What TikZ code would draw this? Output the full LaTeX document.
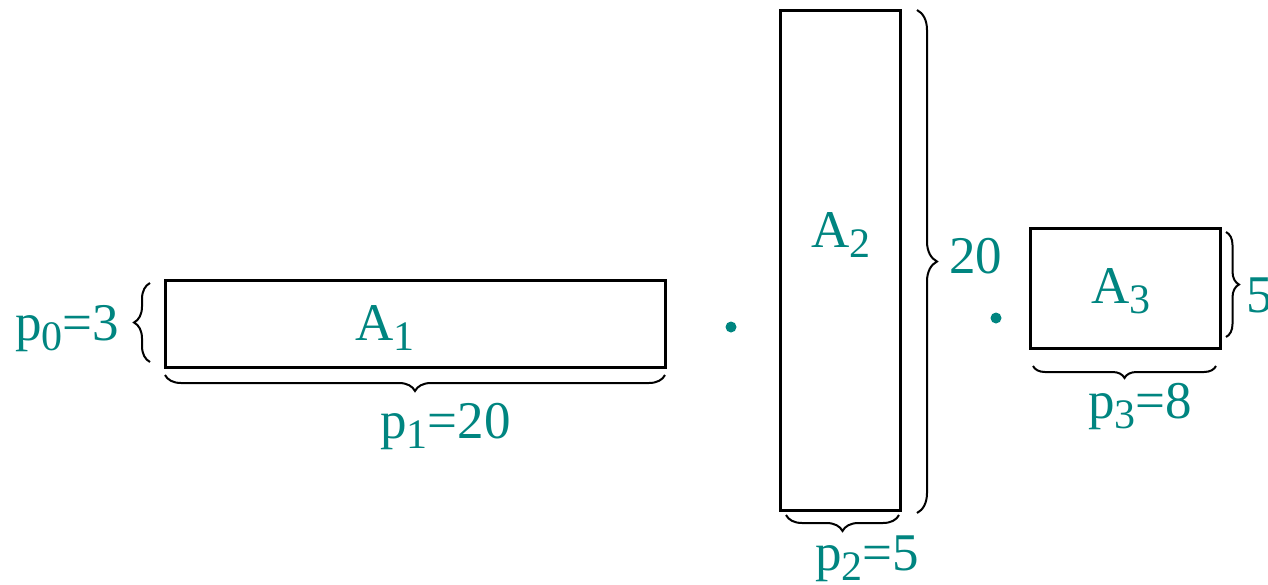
\documentclass[tikz,border=0pt]{standalone}
\usepackage{fontspec}
\setmainfont{Liberation Serif}
\usetikzlibrary{decorations.pathreplacing}
\definecolor{tealtext}{RGB}{0,133,128}
\newcommand{\lsub}[1]{\raisebox{-10pt}{\fontsize{42}{42}\selectfont #1}}
\begin{document}
\begin{tikzpicture}[x=1pt,y=-1pt,
  box/.style={draw=black,line width=3pt,inner sep=0pt,outer sep=0pt,fill=white},
  lbl/.style={text=tealtext,inner sep=0pt,anchor=base west,font=\fontsize{53}{56}\selectfont},
  bracedeco/.style={draw=black,line width=2pt,decorate,decoration={brace,amplitude=#1}},
  dotn/.style={circle,fill=tealtext,inner sep=0pt,minimum size=11pt}]
\useasboundingbox (0,0) rectangle (1268,584);
% boxes
\node[box,minimum width=500pt,minimum height=87pt] (A1) at (415,323.5) {};
\node[box,minimum width=120pt,minimum height=500pt] (A2) at (840,260) {};
\node[box,minimum width=190pt,minimum height=120pt] (A3) at (1125,288) {};
% box labels
\node[lbl] (tA1) at (355,340) {A\lsub{1}};
\node[lbl] (tA2) at (811,247) {A\lsub{2}};
\node[lbl] (tA3) at (1091,303) {A\lsub{3}};
% braces
\draw[bracedeco=16pt] ([xshift=-15pt,yshift=5pt]A1.south west) -- ([xshift=-15pt,yshift=-3pt]A1.north west);
\draw[bracedeco=16pt] ([yshift=-8pt]A1.south east) -- ([yshift=-8pt]A1.south west);
\draw[bracedeco=20pt] ([xshift=17pt]A2.north east) -- ([xshift=17pt,yshift=-3pt]A2.south east);
\draw[bracedeco=16pt] ([xshift=-1pt,yshift=-5pt]A2.south east) -- ([xshift=6pt,yshift=-5pt]A2.south west);
\draw[bracedeco=13pt] ([xshift=6pt,yshift=-4pt]A3.north east) -- ([xshift=6pt,yshift=11pt]A3.south east);
\draw[bracedeco=12pt] ([xshift=-4pt,yshift=-18pt]A3.south east) -- ([xshift=3pt,yshift=-18pt]A3.south west);
% dimension labels
\node[lbl] (p0) at (15,340) {p\lsub{0}=3};
\node[lbl] (p1) at (380,438) {p\lsub{1}=20};
\node[lbl] (d20) at (949,273) {20};
\node[lbl] (p2) at (815,570) {p\lsub{2}=5};
\node[lbl] (d5) at (1246,312) {5};
\node[lbl] (p3) at (1088,418) {p\lsub{3}=8};
% multiplication dots
\node[dotn] (m1) at (731,327) {};
\node[dotn] (m2) at (996,318) {};
\end{tikzpicture}
\end{document}
